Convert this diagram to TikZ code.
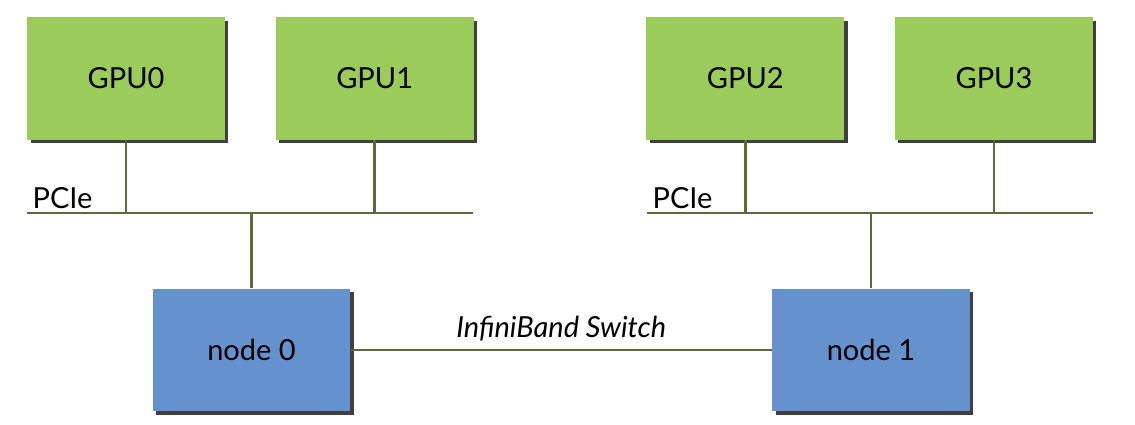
\documentclass[tikz,border=0pt]{standalone}
\usepackage{fontspec}
\setmainfont{Lato}
\usepackage{tikz}
\usetikzlibrary{positioning, shadows}
\definecolor{gpugreen}{HTML}{9BCB5B}
\definecolor{nodeblue}{HTML}{6592CC}
\definecolor{busolive}{HTML}{5B6A3A}
\tikzstyle{Bus} = [
    line width = 1.5pt,
    draw = busolive
]

\begin{document}
\begin{tikzpicture}[
x = 0.02cm, y = -0.02cm,
every node/.style = {font = \fontsize{16.5}{19}\selectfont},
box/.style = {
    rectangle,
    minimum width = 3.96cm,
    minimum height = 2.46cm,
    inner sep = 0pt,
    drop shadow = {shadow xshift = 0.07cm, shadow yshift = -0.07cm, fill = black!75, opacity = 1}
    },
gpu/.style = {box, fill = gpugreen},
host/.style = {box, fill = nodeblue}
]
\useasboundingbox (0,0) rectangle (1135,425);

\node [gpu] (gpu0) at (126,78.5) {GPU0};
\node [gpu, right = 1cm of gpu0] (gpu1) {GPU1};
\node [gpu, right = 3.44cm of gpu1] (gpu2) {GPU2};
\node [gpu, right = 1cm of gpu2] (gpu3) {GPU3};

\node [host] (node0) at (251.5,350) {node 0};
\node [host] (node1) at (871,350) {node 1};

% PCIe buses
\coordinate (busL0) at (27,213);
\coordinate (busL1) at (473,213);
\coordinate (busR0) at (647,213);
\coordinate (busR1) at (1093,213);

\draw[Bus] (busL0) -- (busL1);
\draw[Bus] (busR0) -- (busR1);
\node [anchor = south west, inner sep = 2pt, xshift = 1pt] (pcie0) at (busL0) {PCIe};
\node [anchor = south west, inner sep = 2pt, xshift = 1pt] (pcie1) at (busR0) {PCIe};

\draw[Bus] (gpu0.south) -- (gpu0.south |- busL0);
\draw[Bus] (gpu1.south) -- (gpu1.south |- busL0);
\draw[Bus] (gpu2.south) -- (gpu2.south |- busR0);
\draw[Bus] (gpu3.south) -- (gpu3.south |- busR0);
\draw[Bus] (node0.north) -- (node0.north |- busL0);
\draw[Bus] (node1.north) -- (node1.north |- busR0);

\draw[Bus] (node0.east) -- node [above, yshift = 1pt, font = \fontsize{16.5}{19}\selectfont\itshape] (ib) {InfiniBand Switch} (node1.west);

\end{tikzpicture}
\end{document}
